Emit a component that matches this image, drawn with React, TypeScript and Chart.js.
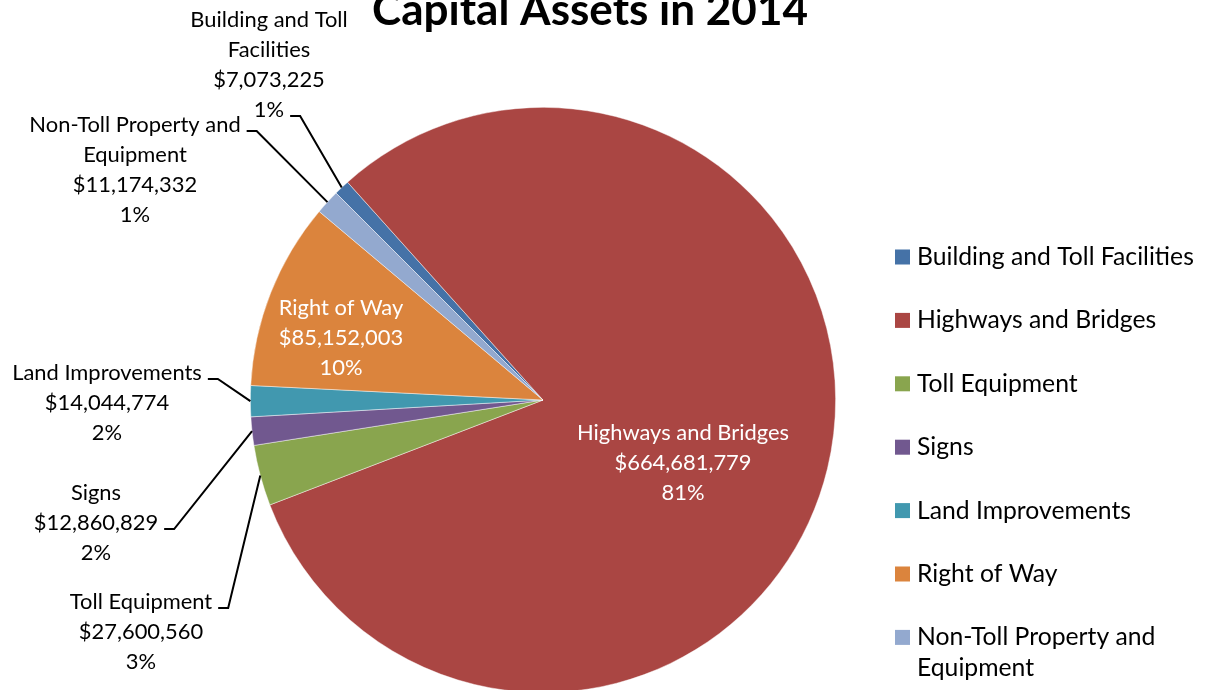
import React, { useEffect, useRef } from "react";
import { Chart, registerables } from "chart.js";

Chart.register(...registerables);

const chartTitle = "Capital Assets in 2014";
const categories = [
  "Building and Toll Facilities",
  "Highways and Bridges",
  "Toll Equipment",
  "Signs",
  "Land Improvements",
  "Right of Way",
  "Non-Toll Property and Equipment",
];
const values = [7073225, 664681779, 27600560, 12860829, 14044774, 85152003, 11174332];
const colors = ["#4572A7", "#AA4643", "#89A54E", "#71588F", "#4198AF", "#DB843D", "#93A9CF"];
const labelNameLines = [
  ["Building and Toll", "Facilities"],
  ["Highways and Bridges"],
  ["Toll Equipment"],
  ["Signs"],
  ["Land Improvements"],
  ["Right of Way"],
  ["Non-Toll Property and", "Equipment"],
];
const legendLines = [
  ["Building and Toll Facilities"],
  ["Highways and Bridges"],
  ["Toll Equipment"],
  ["Signs"],
  ["Land Improvements"],
  ["Right of Way"],
  ["Non-Toll Property and", "Equipment"],
];

// label placement (layout only): text block centre x, first line centre y, inside?, line carrying the leader
const labelLayout = [
  { cx: 269, cy: 20, inside: false, leaderLine: 3 },
  { cx: 683, cy: 433, inside: true, leaderLine: -1 },
  { cx: 141, cy: 602, inside: false, leaderLine: 0 },
  { cx: 96, cy: 493, inside: false, leaderLine: 1 },
  { cx: 107, cy: 373, inside: false, leaderLine: 0 },
  { cx: 341, cy: 308, inside: true, leaderLine: -1 },
  { cx: 135, cy: 125, inside: false, leaderLine: 0 },
];

const FONT = "Lato, 'Open Sans', sans-serif";

function fitSize(ctx: CanvasRenderingContext2D, text: string, target: number, weight: string) {
  ctx.font = `${weight} 100px ${FONT}`;
  const w = ctx.measureText(text).width;
  return (100 * target) / w;
}

const labelPlugin = {
  id: "customLabels",
  afterDraw(chart: any) {
    const ctx: CanvasRenderingContext2D = chart.ctx;
    const total = values.reduce((a, b) => a + b, 0);
    const meta = chart.getDatasetMeta(0);
    ctx.save();

    // title
    const tSize = fitSize(ctx, chartTitle, 436, "bold");
    ctx.font = `bold ${tSize}px ${FONT}`;
    ctx.fillStyle = "#000";
    ctx.textAlign = "center";
    ctx.textBaseline = "alphabetic";
    ctx.fillText(chartTitle, 590, 25);

    // data labels
    const lSize = fitSize(ctx, "Highways and Bridges", 212, "normal");
    const lineH = 30;
    meta.data.forEach((arc: any, i: number) => {
      const p = arc.getProps(["x", "y", "startAngle", "endAngle", "outerRadius"], true);
      const mid = (p.startAngle + p.endAngle) / 2;
      const ex = p.x + Math.cos(mid) * p.outerRadius;
      const ey = p.y + Math.sin(mid) * p.outerRadius;
      const lay = labelLayout[i];
      const lines = [
        ...labelNameLines[i],
        "$" + values[i].toLocaleString("en-US"),
        Math.round((values[i] / total) * 100) + "%",
      ];
      ctx.font = `${lSize}px ${FONT}`;
      ctx.textAlign = "center";
      ctx.textBaseline = "middle";
      ctx.fillStyle = lay.inside ? "#ffffff" : "#000000";
      lines.forEach((ln, k) => ctx.fillText(ln, lay.cx, lay.cy + k * lineH));
      if (!lay.inside) {
        const ln = lines[lay.leaderLine];
        const w = ctx.measureText(ln).width;
        const sx = lay.cx + w / 2 + 6;
        const sy = lay.cy + lay.leaderLine * lineH + 6;
        ctx.beginPath();
        ctx.strokeStyle = "#000";
        ctx.lineWidth = 2;
        ctx.lineJoin = "miter";
        ctx.moveTo(sx, sy);
        ctx.lineTo(sx + 10, sy);
        ctx.lineTo(ex, ey);
        ctx.stroke();
      }
    });

    // legend
    const gSize = fitSize(ctx, legendLines[0][0], 277, "normal");
    ctx.font = `${gSize}px ${FONT}`;
    ctx.textAlign = "left";
    ctx.textBaseline = "middle";
    categories.forEach((_, i) => {
      const y = 257 + i * 63.4;
      ctx.fillStyle = colors[i];
      ctx.fillRect(895, y - 7.5, 15, 15);
      ctx.fillStyle = "#000";
      legendLines[i].forEach((ln, k) => ctx.fillText(ln, 917, y + k * 31));
    });
    ctx.restore();
  },
};

export default function App() {
  const ref = useRef<HTMLCanvasElement>(null);
  useEffect(() => {
    document.body.style.margin = "0";
    const chart = new Chart(ref.current as HTMLCanvasElement, {
      type: "pie",
      data: {
        labels: categories,
        datasets: [
          {
            data: values,
            backgroundColor: colors,
            borderColor: "rgba(255,255,255,0.6)",
            borderWidth: 0.75,
          },
        ],
      },
      options: {
        responsive: false,
        animation: false,
        rotation: -45,
        layout: { padding: { left: 0, right: 120, top: 107, bottom: 27 } },
        plugins: {
          legend: { display: false },
          tooltip: { enabled: false },
          title: { display: false },
        },
      },
      plugins: [labelPlugin],
    } as any);
    return () => chart.destroy();
  }, []);
  return (
    <div
      style={{
        position: "fixed",
        left: 0,
        top: 0,
        width: 1206,
        height: 690,
        overflow: "hidden",
        background: "#ffffff",
      }}
    >
      <canvas ref={ref} width={1206} height={720} style={{ display: "block" }} />
    </div>
  );
}
